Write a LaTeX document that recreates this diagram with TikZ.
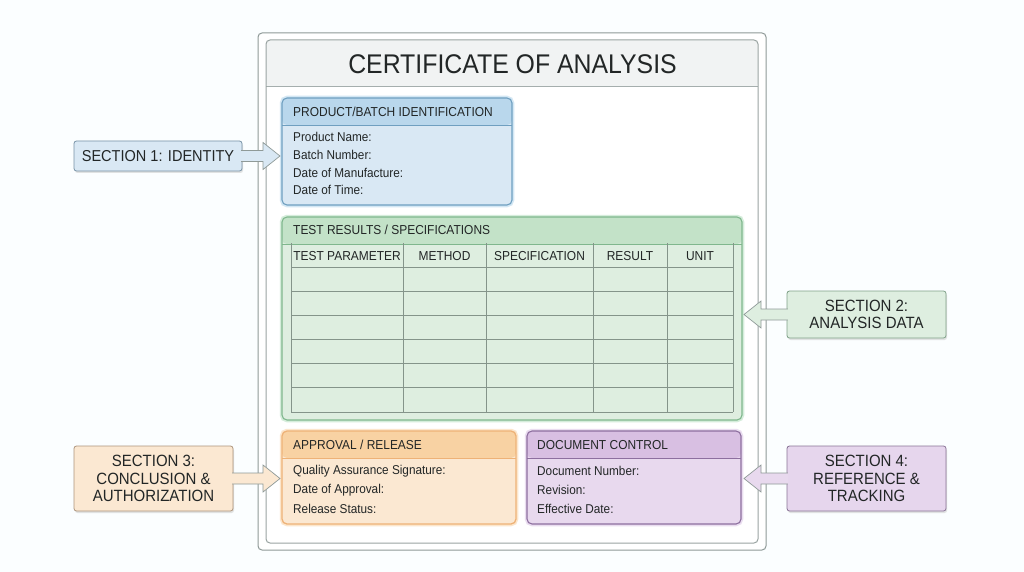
\documentclass[tikz,border=0pt]{standalone}
\usepackage{fontspec}
\setmainfont[FakeStretch=0.92]{Liberation Sans}
\usetikzlibrary{calc,shadows}

\definecolor{pageBack}{HTML}{FBFEFF}
\definecolor{frameLine}{HTML}{8F9A98}
\definecolor{titleBack}{HTML}{F1F3F3}
\definecolor{inkText}{HTML}{222626}
\definecolor{gridLine}{HTML}{84948A}
\definecolor{blueBody}{HTML}{D9E8F4}
\definecolor{blueHead}{HTML}{B9D7EC}
\definecolor{blueLine}{HTML}{6F9FC0}
\definecolor{blueGlow}{HTML}{D3E7F4}
\definecolor{greenBody}{HTML}{DEEEE0}
\definecolor{greenHead}{HTML}{C3E2C8}
\definecolor{greenLine}{HTML}{7FB78D}
\definecolor{greenGlow}{HTML}{D5EDDB}
\definecolor{orangeBody}{HTML}{FBE8D2}
\definecolor{orangeHead}{HTML}{F8D2A3}
\definecolor{orangeLine}{HTML}{EEB277}
\definecolor{orangeGlow}{HTML}{FCE6CC}
\definecolor{purpleBody}{HTML}{E8D9EE}
\definecolor{purpleHead}{HTML}{D8BFE2}
\definecolor{purpleLine}{HTML}{8D6F9F}
\definecolor{purpleGlow}{HTML}{EADDF0}

\tikzset{
  panel/.style n args={4}{draw=#2, fill=#1, line width=1.1pt, rounded corners=5pt,
    outer sep=0pt, inner sep=0pt, anchor=north west,
    preaction={draw=#4, line width=4.5pt},
    path picture={\fill[#3] (path picture bounding box.north west) rectangle
      ([yshift=-27pt]path picture bounding box.north east);
      \draw[#2, line width=.7pt] ([yshift=-27pt]path picture bounding box.north west) --
      ([yshift=-27pt]path picture bounding box.north east);}},
  headtext/.style={anchor=west, inner sep=0pt, text=inkText, font=\fontsize{13}{15}\selectfont},
  bodytext/.style={anchor=west, inner sep=0pt, text=inkText, font=\fontsize{12.8}{14}\selectfont},
  coltext/.style={inner sep=0pt, text=inkText, font=\fontsize{13}{15}\selectfont},
  callout/.style={draw=#1, line width=.8pt, rounded corners=2.5pt, outer sep=0pt, inner sep=0pt,
    align=center, anchor=north west, text=inkText, font=\fontsize{16.3}{17.5}\selectfont,
    drop shadow={shadow xshift=1pt, shadow yshift=-2pt, fill=black!22}},
  gridline/.style={draw=gridLine, line width=.8pt}
}

\newcommand{\sectionarrow}[4]{
  \coordinate (base) at ($(#1)+(-0.8*#3,0)$);
  \coordinate (shaftup) at ($(#2)+(0,-5.5)$);
  \coordinate (shaftdown) at ($(#2)+(0,5.5)$);
  \filldraw[draw=frameLine, line width=.7pt, fill=#4]
    (base |- shaftup) -- ($(#2)+(-17*#3,-5.5)$) -- ($(#2)+(-17*#3,-13.5)$) -- (#2)
    -- ($(#2)+(-17*#3,13.5)$) -- ($(#2)+(-17*#3,5.5)$) -- (base |- shaftdown);
}

\begin{document}
\begin{tikzpicture}[x=1pt, y=-1pt]
\useasboundingbox[fill=pageBack] (0,0) rectangle (1024,572);

% sheet
\node[draw=frameLine, fill=white, line width=1pt, rounded corners=4pt, outer sep=0pt, anchor=north west,
  minimum width=508pt, minimum height=517pt] (sheet) at (258,33) {};
\node[draw=frameLine!90, fill=white, line width=1pt, rounded corners=4pt, outer sep=0pt, anchor=north west,
  minimum width=492pt, minimum height=503pt,
  path picture={\fill[titleBack] (path picture bounding box.north west) rectangle
    ([yshift=-47pt]path picture bounding box.north east);
    \draw[frameLine!80, line width=1pt] ([yshift=-47pt]path picture bounding box.north west) --
    ([yshift=-47pt]path picture bounding box.north east);}] (inner) at (266,40) {};
\node[inner sep=0pt, text=inkText, font=\fontsize{27}{30}\selectfont] (title) at (512.5,64.5) {CERTIFICATE OF ANALYSIS};

% panels
\node[panel={blueBody}{blueLine}{blueHead}{blueGlow}, minimum width=230pt, minimum height=107pt] (identity) at (282,98) {};
\node[panel={greenBody}{greenLine}{greenHead}{greenGlow}, minimum width=460pt, minimum height=203pt] (results) at (282,217) {};
\node[panel={orangeBody}{orangeLine}{orangeHead}{orangeGlow}, minimum width=234pt, minimum height=93pt, line width=1.3pt] (approval) at (282,431) {};
\node[panel={purpleBody}{purpleLine}{purpleHead}{purpleGlow}, minimum width=214pt, minimum height=93pt] (control) at (527,431) {};

\node[headtext] (identityhead) at (293,111.5) {PRODUCT/BATCH IDENTIFICATION};
\node[headtext] (resultshead) at (293,230) {TEST RESULTS / SPECIFICATIONS};
\node[headtext] (approvalhead) at (293,445) {APPROVAL / RELEASE};
\node[headtext] (controlhead) at (537,445) {DOCUMENT CONTROL};

\node[bodytext] (name) at (293,137) {Product Name:};
\node[bodytext] (batch) at (293,155) {Batch Number:};
\node[bodytext] (made) at (293,172.5) {Date of Manufacture:};
\node[bodytext] (time) at (293,190) {Date of Time:};

\node[bodytext] (signature) at (293,471) {Quality Assurance Signature:};
\node[bodytext] (approved) at (293,490) {Date of Approval:};
\node[bodytext] (status) at (293,509) {Release Status:};

\node[bodytext] (docnumber) at (537,471) {Document Number:};
\node[bodytext] (revision) at (537,490) {Revision:};
\node[bodytext] (effective) at (537,509) {Effective Date:};

% table
\foreach \x in {291,403,486,593,667,733} {
  \draw[gridline] (\x,243) -- (\x,412);
}
\foreach \y in {267.5,291.5,315.5,339.5,363.5,387.5,412} {
  \draw[gridline] (291,\y) -- (733,\y);
}
\node[coltext] (parameter) at (347,256) {TEST PARAMETER};
\node[coltext] (method) at (444.5,256) {METHOD};
\node[coltext] (specification) at (539.5,256) {SPECIFICATION};
\node[coltext] (result) at (630,256) {RESULT};
\node[coltext] (unit) at (700,256) {UNIT};

% section callouts
\node[callout=blueLine!60!gray, fill=blueBody, minimum width=168pt, minimum height=30pt, font=\fontsize{15.8}{17.5}\selectfont] (sec1) at (74,141) {SECTION 1: IDENTITY};
\node[callout=greenLine!60!gray, fill=greenBody, minimum width=159pt, minimum height=47pt] (sec2) at (787,291) {SECTION 2:\\ANALYSIS DATA};
\node[callout=orangeLine!40!gray, fill=orangeBody, minimum width=159pt, minimum height=65pt] (sec3) at (74,446) {SECTION 3:\\CONCLUSION \&\\AUTHORIZATION};
\node[callout=purpleLine!70!gray, fill=purpleBody!90!purpleHead, minimum width=159pt, minimum height=65pt] (sec4) at (787,446) {SECTION 4:\\REFERENCE \&\\TRACKING};

\coordinate (tip1) at ([xshift=-2pt]identity.west |- sec1.east);
\coordinate (tip2) at ([xshift=2pt]results.east |- sec2.west);
\coordinate (tip3) at ([xshift=-2pt]approval.west |- sec3.east);
\coordinate (tip4) at ([xshift=3pt]control.east |- sec4.west);

\sectionarrow{sec1.east}{tip1}{1}{blueBody}
\sectionarrow{sec2.west}{tip2}{-1}{greenBody}
\sectionarrow{sec3.east}{tip3}{1}{orangeBody}
\sectionarrow{sec4.west}{tip4}{-1}{purpleBody}

\end{tikzpicture}
\end{document}
